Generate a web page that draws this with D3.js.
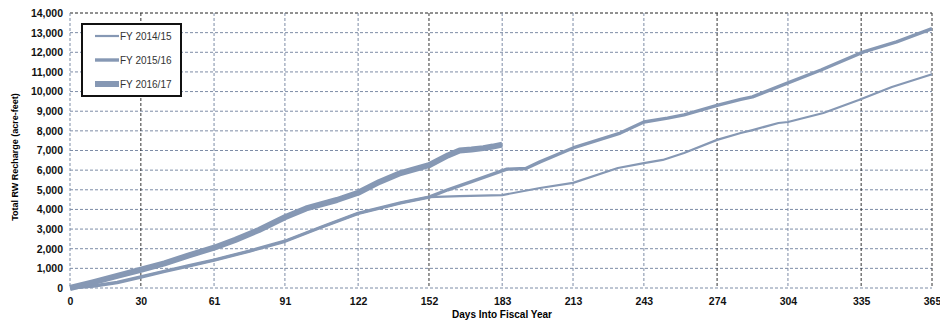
<!DOCTYPE html>
<html lang="en">
<head>
<meta charset="utf-8" />
<title>Total RW Recharge by Fiscal Year</title>
<script src="https://d3js.org/d3.v7.min.js"></script>
<style>
  body { margin: 0; background: #fff; }
  text { font-family: "Liberation Sans", Arial, sans-serif; }
</style>
</head>
<body>
<script>
// ---- data: [day into fiscal year, acre-feet] ----
var fy1415 = [[0,0],[10,100],[20,280],[30,560],[40,850],[50,1120],[61,1420],[76,1880],[91,2380],[106,3080],
  [122,3800],[140,4330],[152,4630],[165,4680],[183,4730],[199,5090],[213,5350],[232,6110],[243,6360],
  [251,6520],[260,6870],[274,7540],[284,7890],[289,8040],[300,8400],[304,8450],[319,8910],[334,9570],
  [348,10230],[365,10880]];
var fy1516 = [[0,0],[10,100],[20,280],[30,560],[40,850],[50,1120],[61,1420],[76,1880],[91,2380],[106,3080],
  [122,3800],[140,4330],[152,4630],[160,5000],[170,5420],[185,6050],[193,6080],[199,6420],[213,7130],
  [233,7890],[243,8450],[253,8650],[260,8810],[274,9300],[284,9600],[289,9730],[304,10440],[318,11100],
  [336,12020],[350,12530],[365,13200]];
var fy1617 = [[0,0],[10,300],[20,620],[30,930],[40,1250],[50,1650],[61,2050],[70,2450],[80,2950],[91,3600],
  [100,4050],[113,4480],[122,4850],[131,5400],[140,5850],[152,6250],[160,6750],[165,7000],[170,7050],
  [175,7120],[179,7200],[183,7300]];

var seriesNames = ["FY 2014/15", "FY 2015/16", "FY 2016/17"];
var seriesWidths = [2.2, 3.4, 6];
var xTicks = [0, 30, 61, 91, 122, 152, 183, 213, 243, 274, 304, 335, 365];
var yTicks = d3.range(0, 14001, 1000);

var w = 940, h = 323;
var plotL = 70, plotR = 932, plotT = 13, plotB = 288;
var lineColor = "#8698b4";

var svg = d3.select("body").append("svg")
  .attr("width", w).attr("height", h);

var x = d3.scaleLinear().domain([0, 365]).range([plotL, plotR]);
var y = d3.scaleLinear().domain([0, 14000]).range([plotB, plotT]);

// horizontal grid
svg.append("g")
  .selectAll("line")
  .data(yTicks)
  .enter().append("line")
  .attr("x1", plotL).attr("x2", plotR)
  .attr("y1", function(d){ return y(d); })
  .attr("y2", function(d){ return y(d); })
  .attr("stroke", function(d){ return d == 14000 ? "#222" : "#7d8ca6"; })
  .attr("stroke-width", 1)
  .attr("stroke-dasharray", "3,2");

// vertical grid
svg.append("g")
  .selectAll("line")
  .data(xTicks)
  .enter().append("line")
  .attr("x1", function(d){ return x(d); })
  .attr("x2", function(d){ return x(d); })
  .attr("y1", plotT).attr("y2", plotB)
  .attr("stroke", function(d){ return (d == 30 || d == 152 || d == 274 || d == 335 || d == 365) ? "#333" : "#7d8ca6"; })
  .attr("stroke-width", 1)
  .attr("stroke-dasharray", "3,2");

// axes
var xAxis = svg.append("g")
  .attr("transform", "translate(0," + plotB + ")")
  .call(d3.axisBottom(x).tickValues(xTicks).tickSize(0).tickPadding(10));
xAxis.select(".domain").remove();
xAxis.selectAll("text")
  .style("font-size", "10.5px").style("font-weight", "bold").attr("fill", "#111");

var yAxis = svg.append("g")
  .attr("transform", "translate(" + (plotL - 3) + ",0)")
  .call(d3.axisLeft(y).tickValues(yTicks).tickSize(0).tickPadding(4)
    .tickFormat(d3.format(",")));
yAxis.select(".domain").remove();
yAxis.selectAll("text")
  .style("font-size", "10.5px").style("font-weight", "bold").attr("fill", "#111");

// axis titles
svg.append("text")
  .attr("x", 502).attr("y", 318)
  .attr("text-anchor", "middle")
  .style("font-size", "10px").style("font-weight", "bold")
  .text("Days Into Fiscal Year");

svg.append("text")
  .attr("transform", "translate(18," + 157 + ") rotate(-90)")
  .attr("text-anchor", "middle")
  .style("font-size", "9px").style("font-weight", "bold")
  .text("Total RW Recharge (acre-feet)");

// lines
var line = d3.line()
  .x(function(d){ return x(d[0]); })
  .y(function(d){ return y(d[1]); });

var allSeries = [fy1415, fy1516, fy1617];
svg.append("g")
  .selectAll("path")
  .data(allSeries)
  .enter().append("path")
  .attr("d", line)
  .attr("fill", "none")
  .attr("stroke", lineColor)
  .attr("stroke-linejoin", "round")
  .attr("stroke-width", function(d, i){ return seriesWidths[i]; });

// legend
var lg = svg.append("g").attr("transform", "translate(82,24)");
lg.append("rect")
  .attr("width", 99).attr("height", 72)
  .attr("fill", "#fff").attr("stroke", "#111").attr("stroke-width", 2);
var items = lg.selectAll("g.item")
  .data(seriesNames)
  .enter().append("g")
  .attr("transform", function(d, i){ return "translate(0," + (12 + i * 24) + ")"; });
items.append("line")
  .attr("x1", 13).attr("x2", 37)
  .attr("stroke", lineColor)
  .attr("stroke-width", function(d, i){ return seriesWidths[i]; });
items.append("text")
  .attr("x", 38).attr("y", 4)
  .style("font-size", "10px")
  .attr("fill", "#333")
  .text(function(d){ return d; });
</script>
</body>
</html>
